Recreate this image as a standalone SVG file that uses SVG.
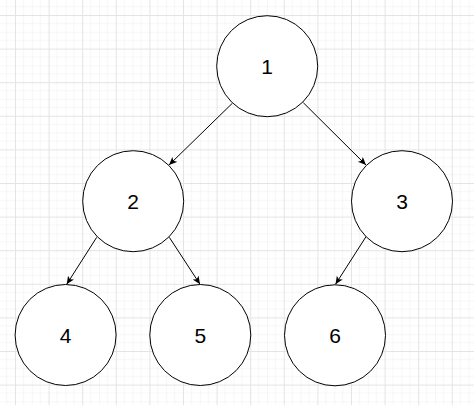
<svg xmlns="http://www.w3.org/2000/svg" width="474" height="405" viewBox="0 0 474 405">
  <style>
    .node circle { fill: #ffffff; stroke: #000000; stroke-width: 1; }
    .node text { font-family: "Liberation Sans", Arial, sans-serif; font-size: 21px; fill: #000000; text-anchor: middle; dominant-baseline: central; }
    .edge { fill: none; stroke: #000000; stroke-width: 1; marker-end: url(#arrow); }
  </style>
  <defs>
    <pattern id="grid" patternUnits="userSpaceOnUse" x="15" y="15" width="33.6" height="33.6">
      <rect x="0" y="8.4" width="33.6" height="0.6" fill="#f0f0f0"/>
      <rect x="0" y="16.8" width="33.6" height="0.6" fill="#f0f0f0"/>
      <rect x="0" y="25.2" width="33.6" height="0.6" fill="#f0f0f0"/>
      <rect x="8.4" y="0" width="0.6" height="33.6" fill="#f0f0f0"/>
      <rect x="16.8" y="0" width="0.6" height="33.6" fill="#f0f0f0"/>
      <rect x="25.2" y="0" width="0.6" height="33.6" fill="#f0f0f0"/>
      <rect x="0" y="0" width="33.6" height="1" fill="#e4e4e4"/>
      <rect x="0" y="0" width="1" height="33.6" fill="#e4e4e4"/>
    </pattern>
    <marker id="arrow" markerUnits="userSpaceOnUse" markerWidth="10" markerHeight="10" refX="8" refY="3.5" orient="auto">
      <path d="M0,0 L8,3.5 L0,7 L2,3.5 Z" fill="#000000"/>
    </marker>
  </defs>
  <rect x="0" y="0" width="474" height="405" fill="#ffffff"/>
  <rect x="0" y="0" width="474" height="405" fill="url(#grid)"/>

  <g id="connectors">
    <line class="edge" x1="232.3" y1="103.3" x2="169" y2="165"/>
    <line class="edge" x1="303.3" y1="102.7" x2="366" y2="165"/>
    <line class="edge" x1="96.7" y1="237.3" x2="66.7" y2="284.3"/>
    <line class="edge" x1="169.3" y1="237.3" x2="200" y2="284.3"/>
    <line class="edge" x1="366" y1="236.7" x2="335.5" y2="284.3"/>
  </g>

  <g id="node1" class="node">
    <circle cx="267.2" cy="66.2" r="50.5"/>
    <text x="267.2" y="66.5">1</text>
  </g>
  <g id="node2" class="node">
    <circle cx="133.2" cy="201.2" r="50.5"/>
    <text x="133.2" y="201.5">2</text>
  </g>
  <g id="node3" class="node">
    <circle cx="402" cy="201.2" r="50.5"/>
    <text x="402" y="201.5">3</text>
  </g>
  <g id="node4" class="node">
    <circle cx="65.6" cy="335" r="50.5"/>
    <text x="65.6" y="335.5">4</text>
  </g>
  <g id="node5" class="node">
    <circle cx="200.3" cy="335" r="50.5"/>
    <text x="200.3" y="335.5">5</text>
  </g>
  <g id="node6" class="node">
    <circle cx="335" cy="335.3" r="50.5"/>
    <text x="335" y="335.5">6</text>
  </g>
</svg>
